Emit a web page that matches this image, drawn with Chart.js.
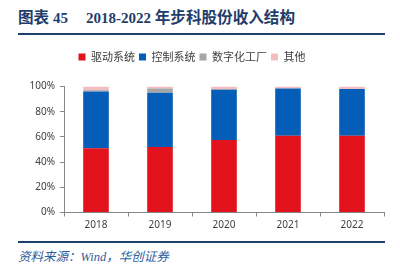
<!DOCTYPE html>
<html><head><meta charset="utf-8">
<script src="https://cdn.jsdelivr.net/npm/chart.js@4"></script>
<style>
html,body{margin:0;padding:0;background:#fff;width:400px;height:274px;overflow:hidden;position:relative}
#title{position:absolute;left:18px;top:8px;font-family:"Liberation Serif","Noto Sans CJK SC",serif;font-weight:bold;font-size:15px;color:#1F3D6B;white-space:nowrap;line-height:20px}
#title .cj{font-size:15.6px}
#l1{position:absolute;left:18px;top:33px;width:367px;height:2px;background:#1F3D6B}
#l2{position:absolute;left:18px;top:241px;width:367px;height:2px;background:#1F3D6B}
#src{position:absolute;left:18px;top:249px;font-family:"Liberation Serif","Noto Sans CJK SC",serif;font-style:italic;font-size:12.5px;color:#2E5C9A;white-space:nowrap;line-height:16px}
#wrap{position:absolute;left:0;top:40px;width:400px;height:200px}
</style></head>
<body>
<div id="title"><span class="cj">图表</span> 45<span style="display:inline-block;width:18px"></span>2018-2022 <span class="cj">年步科股份收入结构</span></div>
<div id="l1"></div>
<div id="wrap"><canvas id="c"></canvas></div>
<div id="l2"></div>
<div id="src">资料来源：Wind，华创证券</div>
<script>
const categories = ["2018","2019","2020","2021","2022"];
const seriesNames = ["驱动系统","控制系统","数字化工厂","其他"];
const drive   = [51, 52, 57.5, 61, 61];
const control = [45, 43, 40, 37.5, 37];
const digital = [1, 3.5, 0.5, 0, 0];
const other   = [3, 1.5, 2, 1.5, 2];
const yTicks = [0,20,40,60,80,100];
const colors = ["#E3131E","#045DB6","#A6A6A6","#F1BDC1"];

const legendFix = {
  id:'legendFix',
  beforeInit(chart){
    const orig = chart.legend.fit;
    chart.legend.fit = function(){ orig.call(this); this.height = 39; };
  }
};
const tickFont = {family:"'Noto Sans','DejaVu Sans',sans-serif", size:10};
new Chart(document.getElementById('c'), {
  type:'bar',
  data:{labels:categories, datasets:[drive,control,digital,other].map((d,i)=>({
    label:seriesNames[i], data:d, backgroundColor:colors[i], borderWidth:0,
    barPercentage:0.4, categoryPercentage:1
  }))},
  options:{
    responsive:true, maintainAspectRatio:false, animation:false,
    layout:{padding:{top:7.5,right:16,left:0,bottom:0}},
    plugins:{
      legend:{position:'top', labels:{boxWidth:7, boxHeight:7, padding:4, color:'#404040',
        font:{family:"'Noto Sans CJK SC',sans-serif", size:11}}},
      tooltip:{enabled:false}
    },
    scales:{
      x:{stacked:true,
        grid:{drawOnChartArea:false, drawTicks:true, tickLength:4, color:'#888', offset:true},
        border:{color:'#888', width:1},
        ticks:{color:'#404040', font:tickFont, padding:3},
        afterFit(s){ s.height = 27.5; }
      },
      y:{stacked:true, min:0, max:100,
        afterBuildTicks(s){ s.ticks = yTicks.map(v=>({value:v})); },
        grid:{drawOnChartArea:false, drawTicks:true, tickLength:4, color:'#888'},
        border:{color:'#888', width:1},
        ticks:{color:'#404040', font:tickFont, padding:5, callback:v=>v+'%'},
        afterFit(s){ s.width = 64; }
      }
    }
  },
  plugins:[legendFix]
});
</script>
</body></html>
